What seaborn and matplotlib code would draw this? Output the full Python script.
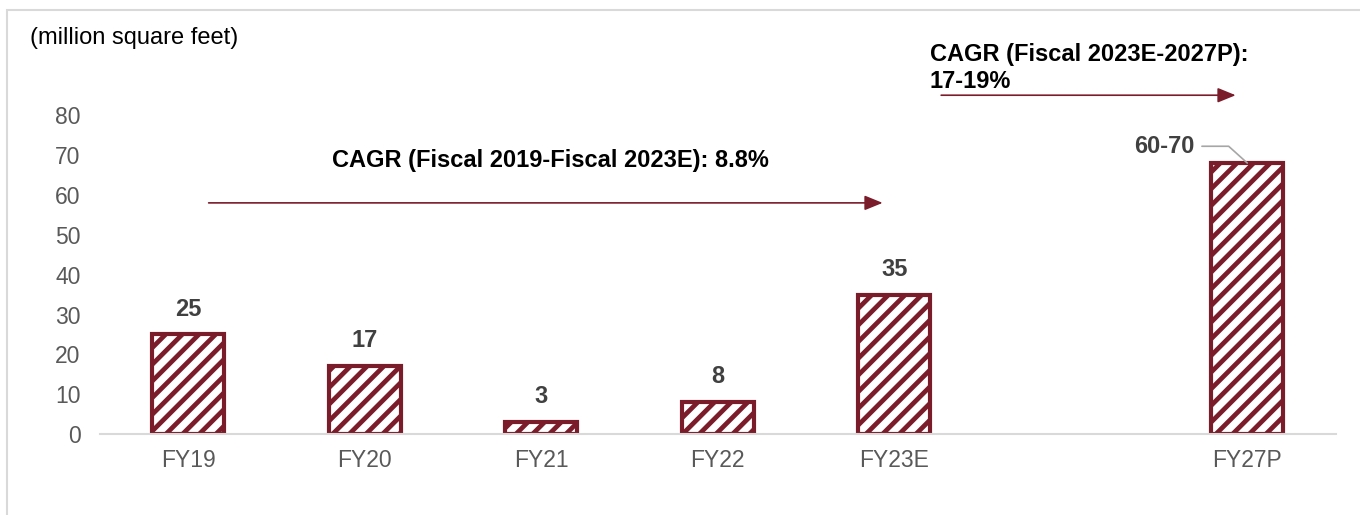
import pandas as pd
import numpy as np
import seaborn as sns
import matplotlib.pyplot as plt
from matplotlib.patches import Rectangle

# Values (million square feet); blank slot before FY27P
categories = ['FY19', 'FY20', 'FY21', 'FY22', 'FY23E', ' ', 'FY27P']
values = [25, 17, 3, 8, 35, np.nan, 68]
labels = ['25', '17', '3', '8', '35', '', '60-70']

cagr_text_1 = 'CAGR (Fiscal 2019-Fiscal 2023E): 8.8%'
cagr_text_2 = 'CAGR (Fiscal 2023E-2027P):\n17-19%'

bar_color = '#7B1C2A'
grey_axis = '#D9D9D9'

df = pd.DataFrame({'year': categories, 'value': values})

sns.set_style('white')
plt.rcParams['font.family'] = ['Liberation Sans', 'DejaVu Sans']
plt.rcParams['hatch.linewidth'] = 3.4
plt.rcParams['hatch.color'] = bar_color

fig = plt.figure(figsize=(13.6, 5.15), dpi=100)
ax = fig.add_axes([0.0735, 0.157, 0.9085, 0.6194])

sns.barplot(data=df, x='year', y='value', order=categories, ax=ax,
            color='white', width=0.41, edgecolor=bar_color, linewidth=3,
            hatch='//', saturation=1)

ax.set_ylim(0, 80)
ax.set_xlim(-0.5, len(categories) - 0.5)
ax.set_yticks(range(0, 81, 10))
ax.set_xlabel('')
ax.set_ylabel('')

for s in ['top', 'right', 'left']:
    ax.spines[s].set_visible(False)
ax.spines['bottom'].set_color(grey_axis)
ax.spines['bottom'].set_linewidth(1.5)

ax.tick_params(axis='x', length=0, pad=11, labelsize=16.5, labelcolor='#595959')
ax.tick_params(axis='y', length=0, pad=14, labelsize=16.5, labelcolor='#595959')
ax.set_xticks(np.arange(-0.5, len(categories)), minor=True)
ax.tick_params(axis='x', which='minor', length=6, width=1.5, color=grey_axis)

# value labels
for i, (v, lab) in enumerate(zip(values, labels)):
    if lab == '' or lab == '60-70':
        continue
    ax.annotate(lab, (i, v), xytext=(0, 10), textcoords='offset points',
                ha='center', va='bottom', fontsize=17, fontweight='bold',
                color='#404040')

# FY27P label with leader line
i27 = categories.index('FY27P')
ax.annotate('60-70', xy=(i27, values[i27]), xytext=(i27 - 0.47, 72.2),
            ha='center', va='center', fontsize=17, fontweight='bold',
            color='#404040',
            arrowprops=dict(arrowstyle='-', color='#A6A6A6', lw=1.2,
                            connectionstyle='angle,angleA=0,angleB=138,rad=0',
                            shrinkA=3, shrinkB=0))

# CAGR arrows and texts
arrow_style = '-|>,head_length=1.1,head_width=0.45'
ax.annotate('', xy=(3.95, 58), xytext=(0.1, 58),
            arrowprops=dict(arrowstyle=arrow_style, color=bar_color, lw=1.2),
            annotation_clip=False)
ax.text(2.05, 68.7, cagr_text_1, ha='center', va='center', fontsize=17,
        fontweight='bold', color='black')

ax.annotate('', xy=(5.95, 85), xytext=(4.25, 85),
            arrowprops=dict(arrowstyle=arrow_style, color=bar_color, lw=1.2),
            annotation_clip=False)
ax.text(4.2, 98.0, cagr_text_2, ha='left', va='top', fontsize=17,
        fontweight='bold', color='black', linespacing=1.22)

fig.text(30 / 1360, 1 - 38 / 515, '(million square feet)', ha='left',
         va='center', fontsize=17, color='black')

# light frame around chart area
fig.patches.append(Rectangle((7 / 1360, -0.1), 1.2, 1.1 - 10 / 515,
                             transform=fig.transFigure, fill=False,
                             edgecolor=grey_axis, linewidth=1.5))

fig.savefig('out.png', dpi=100)
